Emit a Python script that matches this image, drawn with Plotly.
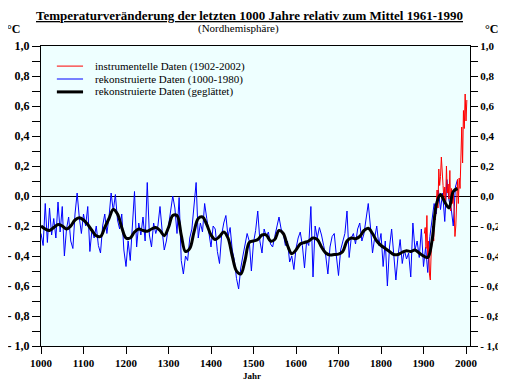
import plotly.graph_objects as go

# ---------------- data ----------------
recon_years = list(range(1000, 1981, 5))
recon_values = [
    # 1000-1250
    -0.25, -0.33, -0.05, -0.31, -0.08, -0.26, -0.15, -0.28, -0.04, -0.24,
    -0.07, -0.40, -0.22, -0.14, -0.30, -0.35, -0.12, 0.02, -0.14, -0.25,
    -0.12, -0.20, -0.07, -0.37, -0.22, -0.28, -0.20, -0.33, -0.38, -0.20,
    -0.12, -0.25, -0.14, 0.02, -0.10, 0.01, -0.16, -0.22, -0.12, -0.36,
    -0.47, -0.30, -0.43, -0.22, 0.03, -0.34, -0.18, -0.26, -0.14, -0.30,
    0.09,
    # 1255-1500
    -0.26, -0.34, -0.18, -0.25, -0.20, -0.07, -0.23, -0.36, -0.30, -0.20,
    -0.12, 0.00, -0.08, -0.25, -0.01, -0.43, -0.52, -0.40, -0.43, -0.28,
    -0.22, -0.05, 0.09, -0.28, -0.18, -0.24, -0.05, -0.15, -0.25, -0.34,
    -0.20, -0.22, -0.37, -0.45, -0.26, -0.18, -0.13, -0.27, -0.21, -0.36,
    -0.43, -0.55, -0.62, -0.48, -0.40, -0.33, -0.25, -0.30, -0.50, -0.31,
    # 1505-1750
    -0.23, -0.10, -0.30, -0.38, -0.22, -0.27, -0.24, -0.32, -0.34, -0.27,
    -0.20, -0.14, -0.22, -0.25, -0.33, -0.30, -0.44, -0.40, -0.49, -0.35,
    -0.28, -0.24, -0.33, -0.48, -0.30, -0.33, -0.07, -0.54, -0.20, -0.28,
    -0.21, -0.26, -0.33, -0.40, -0.52, -0.34, -0.27, -0.25, -0.40, -0.53,
    -0.36, -0.30, -0.25, -0.10, -0.41, -0.28, -0.25, -0.32, -0.22, -0.18,
    # 1755-1980
    -0.30, -0.25, -0.15, -0.05, -0.20, -0.38, -0.28, -0.20, -0.33, -0.25,
    -0.47, -0.30, -0.60, -0.34, -0.22, -0.38, -0.56, -0.40, -0.29, -0.45,
    -0.36, -0.42, -0.38, -0.54, -0.18, -0.36, -0.30, -0.41, -0.22, -0.47,
    -0.34, -0.51, -0.27, -0.16, -0.05, -0.12, 0.04, -0.09, 0.02, -0.17,
    0.11, -0.03, -0.08, -0.20, 0.06, 0.11,
]

smooth_years = list(range(1000, 1981, 10))
smooth_values = [
    -0.20, -0.22, -0.23, -0.21, -0.19, -0.20, -0.22, -0.20, -0.16, -0.145,
    -0.16, -0.19, -0.23, -0.265, -0.27, -0.21, -0.15, -0.09, -0.12, -0.21,
    -0.28, -0.28, -0.24, -0.22, -0.23, -0.235, -0.22, -0.21, -0.23, -0.265,
    -0.21, -0.13, -0.13, -0.26, -0.37, -0.35, -0.24, -0.15, -0.14, -0.19,
    -0.26, -0.29, -0.27, -0.24, -0.28, -0.40, -0.50, -0.52, -0.43, -0.31,
    -0.30, -0.29, -0.26, -0.26, -0.30, -0.29, -0.23, -0.25, -0.33, -0.385,
    -0.36, -0.32, -0.31, -0.30, -0.28, -0.29, -0.34, -0.38, -0.393, -0.39,
    -0.387, -0.37, -0.30, -0.28, -0.285, -0.27, -0.23, -0.215, -0.25, -0.30,
    -0.33, -0.35, -0.37, -0.39, -0.39, -0.375, -0.365, -0.37, -0.36, -0.38,
    -0.40, -0.41, -0.30, -0.06, 0.01, -0.04, -0.08, 0.03, 0.05,
]

instr_years = list(range(1902, 2003, 2))
instr_values = [
    -0.25, -0.21, -0.35, -0.13, -0.42, -0.30, -0.52, -0.56, -0.38, -0.27,
    -0.20, -0.30, -0.10, -0.16, -0.04, 0.04, -0.08, 0.18, 0.07, 0.13,
    0.26, 0.10, 0.07, -0.02, 0.06, -0.05, 0.20, 0.02, 0.08, -0.02,
    0.17, -0.10, 0.05, -0.05, 0.02, -0.08, -0.27, -0.20, -0.03, 0.11,
    -0.05, 0.12, 0.05, 0.26, 0.46, 0.22, 0.57, 0.45, 0.68, 0.50,
    0.64,
]

x_ticks = list(range(1000, 2001, 100))
y_ticks = [1.0, 0.8, 0.6, 0.4, 0.2, 0.0, -0.2, -0.4, -0.6, -0.8, -1.0]
y_ticktext = ["1,0", "0,8", "0,6", "0,4", "0,2", "0,0",
              "- 0,2", "- 0,4", "- 0,6", "- 0,8", "- 1,0"]
y_minor = [0.9, 0.7, 0.5, 0.3, 0.1, -0.1, -0.3, -0.5, -0.7, -0.9]

title = "Temperaturveränderung der letzten 1000 Jahre relativ zum Mittel 1961-1990"
subtitle = "(Nordhemisphäre)"
legend_names = ["instrumentelle Daten (1902-2002)",
                "rekonstruierte Daten (1000-1980)",
                "rekonstruierte Daten (geglättet)"]
legend_colors = ["#FF0000", "#0000FF", "#000000"]
legend_widths = [1, 1, 3]

SERIF = "Liberation Serif, Times New Roman, serif"

fig = go.Figure()
fig.add_trace(go.Scatter(x=recon_years, y=recon_values, mode="lines",
                         line=dict(color="#0000FF", width=1),
                         name=legend_names[1], showlegend=False))
fig.add_trace(go.Scatter(x=instr_years, y=instr_values, mode="lines",
                         line=dict(color="#FF0000", width=1),
                         name=legend_names[0], showlegend=False))
fig.add_trace(go.Scatter(x=smooth_years, y=smooth_values, mode="lines",
                         line=dict(color="#000000", width=3, shape="spline"),
                         name=legend_names[2], showlegend=False))
# invisible trace to anchor the right axis
fig.add_trace(go.Scatter(x=[1000], y=[0], yaxis="y2", mode="markers",
                         marker=dict(opacity=0), showlegend=False, hoverinfo="skip"))

axis_font = dict(family=SERIF, size=12, color="black", weight="bold")

# page body has an 8px margin: figure is 498x376 so it fits the 506x384 window
fig.update_layout(
    width=498, height=376,
    margin=dict(l=33, r=36, t=38, b=38, autoexpand=False),
    paper_bgcolor="white",
    plot_bgcolor="#EEFFFF",
    font=dict(family=SERIF, color="black"),
    showlegend=False,
    xaxis=dict(range=[1000, 2009.4], tickvals=x_ticks,
               ticktext=[str(v) for v in x_ticks], automargin=False,
               ticks="outside", ticklen=7, tickcolor="black",
               showline=True, linecolor="black", linewidth=1, mirror=True,
               showgrid=False, zeroline=False,
               tickfont=dict(family=SERIF, size=11, color="black", weight="bold")),
    yaxis=dict(range=[-1, 1], tickvals=y_ticks, ticktext=y_ticktext, automargin=False,
               ticks="outside", ticklen=8, tickcolor="black",
               minor=dict(tickvals=y_minor, ticks="outside", ticklen=8, tickcolor="black"),
               showline=True, linecolor="black", linewidth=1, mirror=True,
               showgrid=False, zeroline=True, zerolinecolor="black", zerolinewidth=1,
               tickfont=axis_font),
    yaxis2=dict(range=[-1, 1], overlaying="y", side="right", automargin=False,
                tickvals=y_ticks, ticktext=y_ticktext,
                ticks="outside", ticklen=7, tickcolor="black",
                minor=dict(tickvals=y_minor, ticks="outside", ticklen=7, tickcolor="black"),
                showline=True, linecolor="black", linewidth=1,
                showgrid=False, zeroline=False,
                tickfont=dict(family=SERIF, size=11, color="black", weight="bold")),
)

# manual legend (compact rows like the reference)
leg_rows_y = [0.933, 0.890, 0.847]
for name, col, w, yy in zip(legend_names, legend_colors, legend_widths, leg_rows_y):
    fig.add_shape(type="line", xref="paper", yref="paper",
                  x0=0.037, x1=0.098, y0=yy, y1=yy,
                  line=dict(color=col, width=w))
    fig.add_annotation(text=name, xref="paper", yref="paper", x=0.122, y=yy,
                       xanchor="left", yanchor="middle", showarrow=False,
                       font=dict(family=SERIF, size=11, color="black"))

annotations = [
    dict(text="<u><b>" + title + "</b></u>", x=0.487, y=1.102,
         font=dict(family=SERIF, size=13, color="black")),
    dict(text=subtitle, x=0.461, y=1.057, font=dict(family=SERIF, size=11, color="black")),
    dict(text="<b>°C</b>", x=-0.063, y=1.057, font=dict(family=SERIF, size=12, color="black")),
    dict(text="<b>°C</b>", x=1.049, y=1.057, font=dict(family=SERIF, size=12, color="black")),
    dict(text="<b>Jahr</b>", x=0.492, y=-0.099, font=dict(family=SERIF, size=9, color="black")),
]
for a in annotations:
    a.update(xref="paper", yref="paper", showarrow=False, xanchor="center", yanchor="middle")
    fig.add_annotation(**a)

fig.write_html("out.html")
